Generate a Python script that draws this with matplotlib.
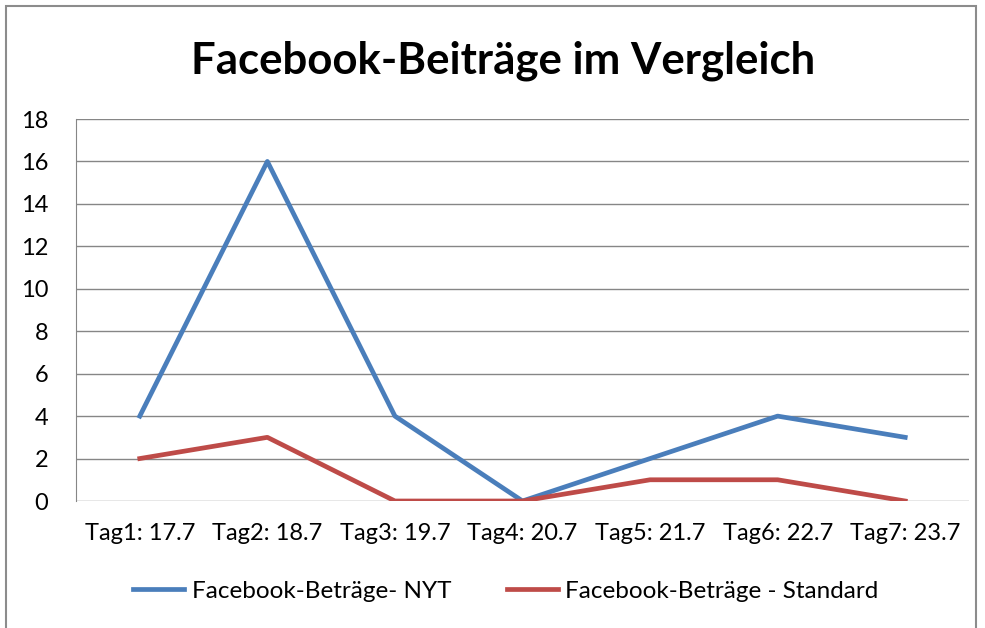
import matplotlib.pyplot as plt
from matplotlib.patches import Rectangle

plt.rcParams['font.family'] = ['Lato', 'DejaVu Sans']

tage = ['Tag1: 17.7', 'Tag2: 18.7', 'Tag3: 19.7', 'Tag4: 20.7',
        'Tag5: 21.7', 'Tag6: 22.7', 'Tag7: 23.7']
nyt = [4, 16, 4, 0, 2, 4, 3]
standard = [2, 3, 0, 0, 1, 1, 0]

fig = plt.figure(figsize=(9.85, 6.28), dpi=100)
# rahmen um das diagramm
fig.patches.append(Rectangle((6 / 985, -0.01), 970 / 985, 1.0 - 6 / 628 + 0.01,
                             transform=fig.transFigure, fill=False,
                             edgecolor='#8c8c8c', linewidth=1.5))

ax = fig.add_axes([76 / 985, 1 - 501 / 628, 893 / 985, 382 / 628])
x = list(range(len(tage)))
ax.plot(x, nyt, color='#4A7EBB', linewidth=3.4, label='Facebook-Beträge- NYT')
ax.plot(x, standard, color='#BE4B48', linewidth=3.4, label='Facebook-Beträge - Standard')

ax.set_ylim(0, 18)
ax.set_yticks(range(0, 19, 2))
ax.set_xlim(-0.5, 6.5)
ax.set_xticks(x)
ax.set_xticklabels(tage)
ax.grid(axis='y', color='#868686', linewidth=1)
ax.set_axisbelow(True)
for sp in ['top', 'right', 'bottom']:
    ax.spines[sp].set_visible(False)
ax.spines['left'].set_color('#868686')
ax.tick_params(length=0, labelsize=17, pad=20)
ax.tick_params(axis='x', pad=16)

fig.text(503 / 985, 1 - 61 / 628, 'Facebook-Beiträge im Vergleich',
         ha='center', va='center', fontsize=31.5, fontweight='bold')

ax.legend(loc='center', bbox_to_anchor=(506 / 985, 1 - 591 / 628),
          bbox_transform=fig.transFigure, ncol=2, frameon=False,
          fontsize=17.5, handlelength=2.1, handletextpad=0.3, columnspacing=2.3)

fig.savefig('out.png', dpi=100)
